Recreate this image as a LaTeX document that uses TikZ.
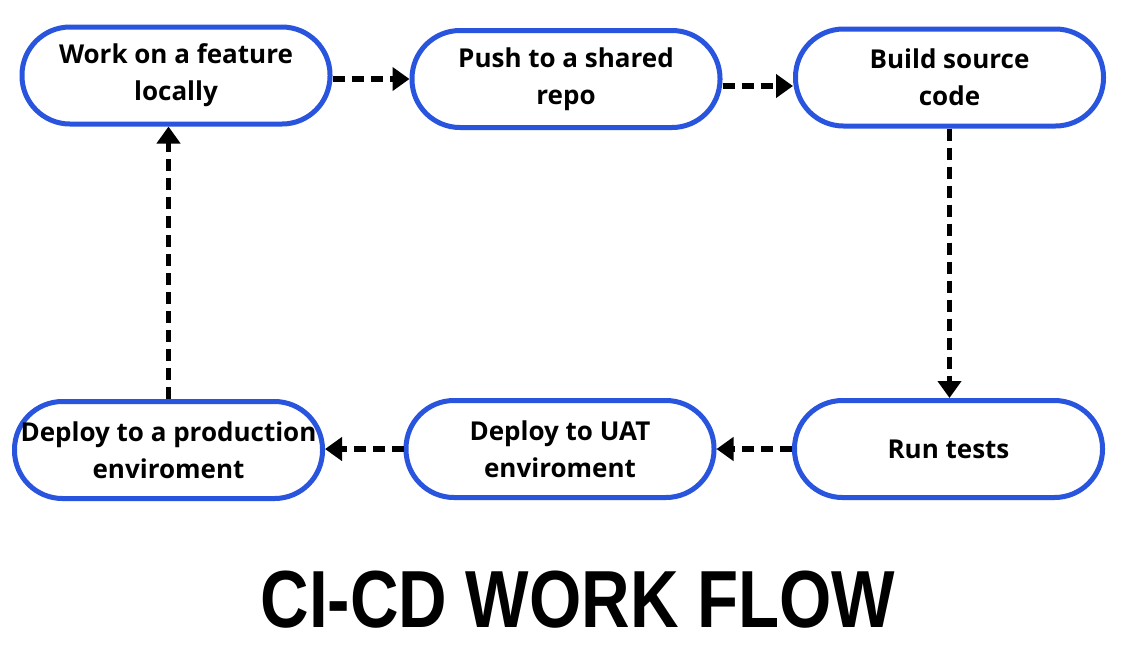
\documentclass[tikz,border=0pt]{standalone}
\usepackage{fontspec}
\setmainfont{Open Sans}
\newfontfamily\titlefont[FakeStretch=0.83]{Liberation Sans}
\usepackage{tikz}
\usetikzlibrary{positioning,arrows.meta,calc}
\definecolor{FlowBlue}{RGB}{41,84,222}

\begin{document}
\begin{tikzpicture}[x=1pt,y=-1pt,
	flowbox/.style={rectangle,draw=FlowBlue,line width=5pt,minimum width=308pt,
	minimum height=97pt,rounded corners=48pt,fill=white,align=center,
	font=\fontsize{26}{37}\selectfont\bfseries},
	flowarrow/.style={line width=5.5pt,dash pattern=on 12pt off 7pt,
	-{Triangle[length=17pt,width=23pt]}}]
			\fill[white] (0,0) rectangle (1121,657);
			\useasboundingbox (0,0) rectangle (1121,657);
			% top row
			\node [flowbox, name = work] at (176,75.5) {Work on a feature\\locally};
			\node [flowbox, name = push] at (566,79) {Push to a shared\\repo};
			\node [flowbox, name = build] at (949.5,77.5) {Build source\\code};
			% bottom row
			\node [flowbox, name = run] at (948.5,449) {Run tests};
			\node [flowbox, name = uat] at (560,449) {Deploy to UAT\\enviroment};
			\node [flowbox, name = prod] at (168.5,450) {Deploy to a production\\enviroment};
			\node [font=\titlefont\bfseries\fontsize{81}{90}\selectfont, name = title] at (578,600) {CI-CD WORK FLOW};
			\draw[flowarrow] (work.east |- push.west) -- (push.west);
			\draw[flowarrow] ([yshift=-7pt]push.east) -- ([yshift=-7pt]push.east -| build.west);
			\draw[flowarrow] (build.south) -- (build.south |- run.north);
			\draw[flowarrow] (run.west) -- (run.west -| uat.east);
			\draw[flowarrow] (uat.west) -- (uat.west -| prod.east);
			\draw[flowarrow] (prod.north) -- (prod.north |- work.south);
		\end{tikzpicture}
\end{document}
